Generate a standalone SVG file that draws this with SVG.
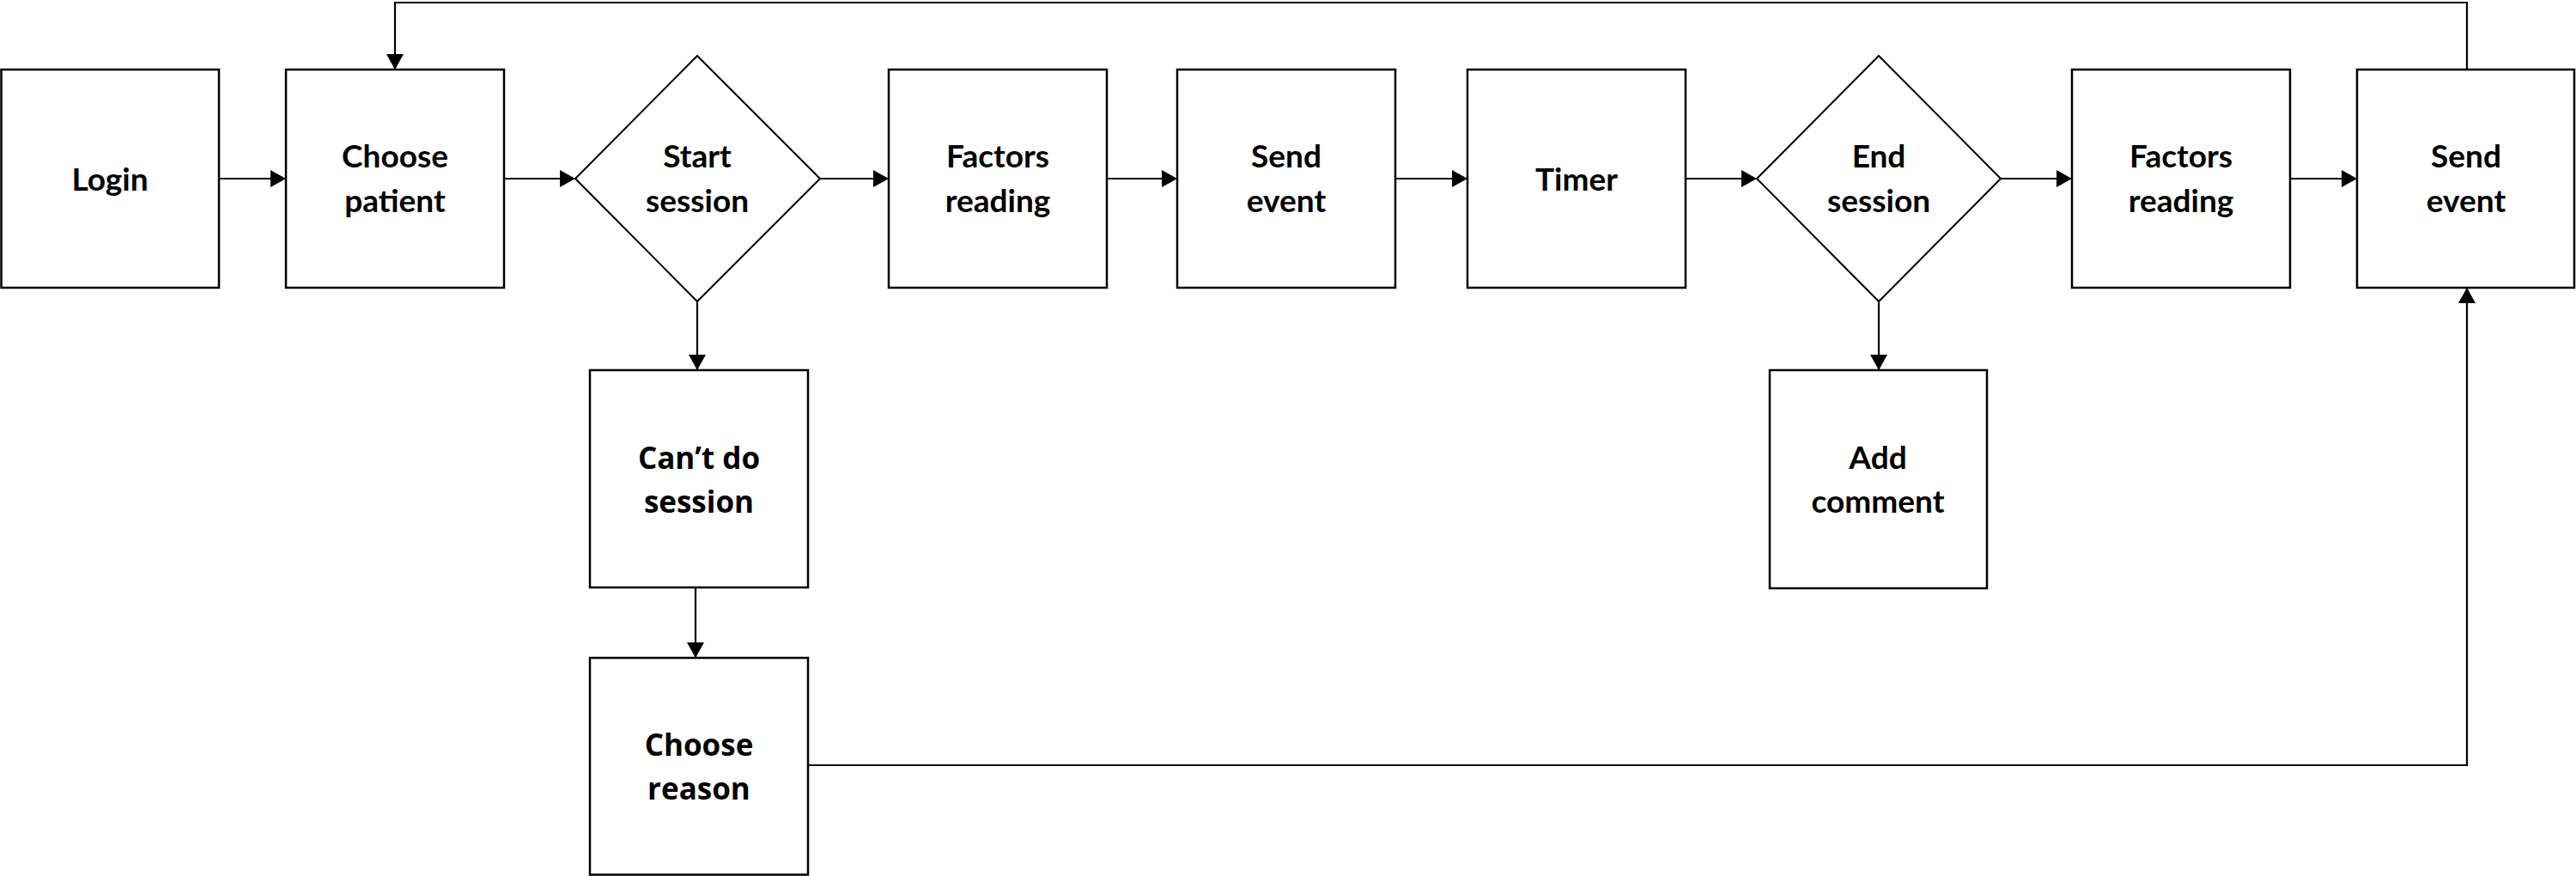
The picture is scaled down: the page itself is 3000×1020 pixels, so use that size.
<svg xmlns="http://www.w3.org/2000/svg" width="3000" height="1020" viewBox="0 0 3000 1020">
<style>
.box{fill:#fff;stroke:#000;stroke-width:2.5}
.dia{fill:#fff;stroke:#000;stroke-width:2}
.t{font-family:Lato,"Liberation Sans",sans-serif;font-weight:bold;font-size:37px;text-anchor:middle;fill:#000}
.t2{font-family:"Open Sans","Liberation Sans",sans-serif;font-weight:bold;font-size:35px;text-anchor:middle;fill:#000}
.c{fill:none;stroke:#000;stroke-width:2.2}
</style>
<defs>
<marker id="ah" markerUnits="userSpaceOnUse" markerWidth="20" markerHeight="20" refX="18" refY="10" orient="auto">
<path d="M0,0 L18,10 L0,20 Z" fill="#000"/>
</marker>
</defs>
<rect width="3000" height="1020" fill="#fff"/>
<g id="connectors">
<line class="c" x1="255" y1="208" x2="333" y2="208" marker-end="url(#ah)"/>
<line class="c" x1="587" y1="208" x2="670" y2="208" marker-end="url(#ah)"/>
<line class="c" x1="955" y1="208" x2="1035" y2="208" marker-end="url(#ah)"/>
<line class="c" x1="1289" y1="208" x2="1371" y2="208" marker-end="url(#ah)"/>
<line class="c" x1="1625" y1="208" x2="1709" y2="208" marker-end="url(#ah)"/>
<line class="c" x1="1963" y1="208" x2="2046" y2="208" marker-end="url(#ah)"/>
<line class="c" x1="2330" y1="208" x2="2413" y2="208" marker-end="url(#ah)"/>
<line class="c" x1="2667" y1="208" x2="2745" y2="208" marker-end="url(#ah)"/>
<polyline class="c" points="2873,81 2873,3 460,3 460,81" marker-end="url(#ah)"/>
<line class="c" x1="812" y1="351" x2="812" y2="431" marker-end="url(#ah)"/>
<line class="c" x1="810" y1="684" x2="810" y2="766" marker-end="url(#ah)"/>
<polyline class="c" points="941,891 2873,891 2873,335" marker-end="url(#ah)"/>
<line class="c" x1="2188" y1="351" x2="2188" y2="431" marker-end="url(#ah)"/>
</g>
<g id="login"><rect class="box" x="1.5" y="81" width="253.5" height="254"/><text class="t" x="128" y="222">Login</text></g>
<g id="choose-patient"><rect class="box" x="333" y="81" width="254" height="254"/><text class="t" x="460" y="195">Choose</text><text class="t" x="460" y="247">patient</text></g>
<g id="start-session"><polygon class="dia" points="812,65 955,208 812,351 670,208"/><text class="t" x="812" y="195">Start</text><text class="t" x="812" y="247">session</text></g>
<g id="factors-reading-1"><rect class="box" x="1035" y="81" width="254" height="254"/><text class="t" x="1162" y="195">Factors</text><text class="t" x="1162" y="247">reading</text></g>
<g id="send-event-1"><rect class="box" x="1371" y="81" width="254" height="254"/><text class="t" x="1498" y="195">Send</text><text class="t" x="1498" y="247">event</text></g>
<g id="timer"><rect class="box" x="1709" y="81" width="254" height="254"/><text class="t" x="1836" y="222">Timer</text></g>
<g id="end-session"><polygon class="dia" points="2188,65 2330,208 2188,351 2046,208"/><text class="t" x="2188" y="195">End</text><text class="t" x="2188" y="247">session</text></g>
<g id="factors-reading-2"><rect class="box" x="2413" y="81" width="254" height="254"/><text class="t" x="2540" y="195">Factors</text><text class="t" x="2540" y="247">reading</text></g>
<g id="send-event-2"><rect class="box" x="2745" y="81" width="253" height="254"/><text class="t" x="2872" y="195">Send</text><text class="t" x="2872" y="247">event</text></g>
<g id="cant-do-session"><rect class="box" x="687" y="431" width="254" height="253"/><text class="t2" x="814" y="546">Can’t do</text><text class="t2" x="814" y="597">session</text></g>
<g id="choose-reason"><rect class="box" x="687" y="766" width="254" height="252.5"/><text class="t2" x="814" y="880">Choose</text><text class="t2" x="814" y="931">reason</text></g>
<g id="add-comment"><rect class="box" x="2061" y="431" width="253" height="254"/><text class="t" x="2187" y="546">Add</text><text class="t" x="2187" y="597">comment</text></g>
</svg>
